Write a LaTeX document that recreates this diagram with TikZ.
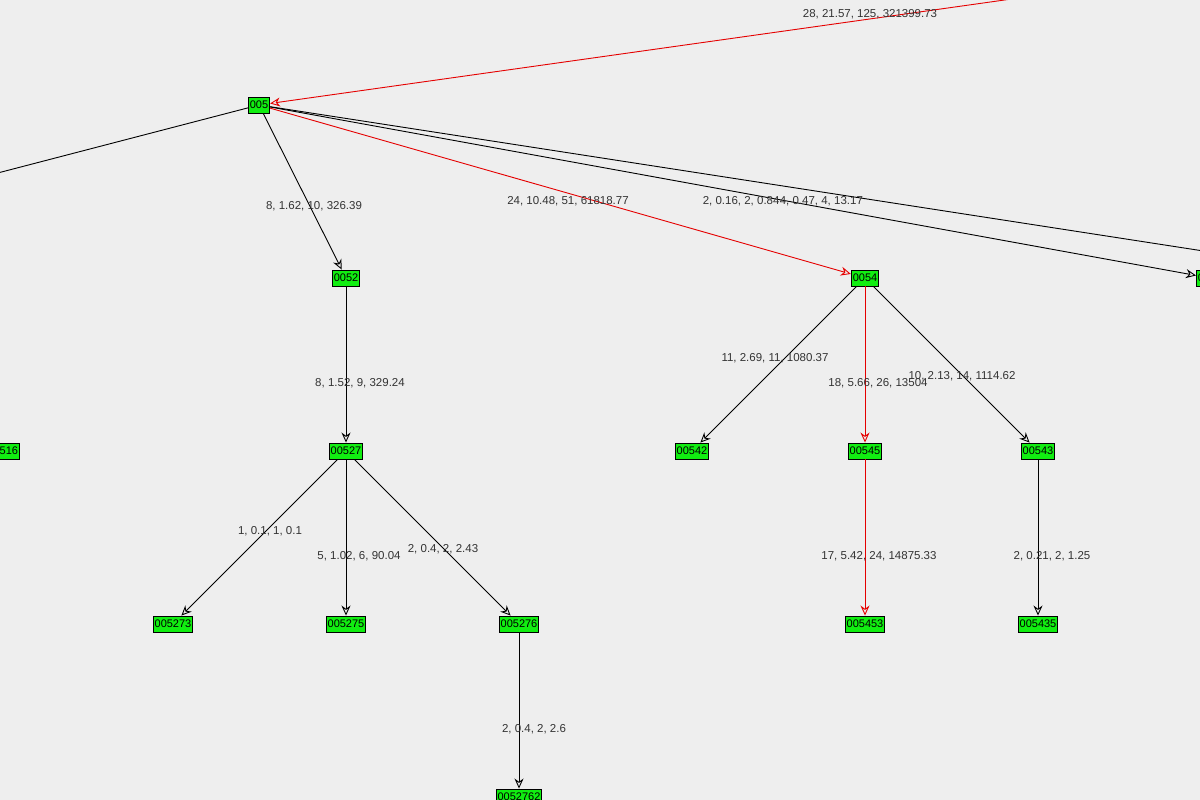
\documentclass[tikz,border=0pt]{standalone}
\usepackage{fontspec}
\setmainfont{Liberation Sans}
\usetikzlibrary{arrows.meta}
\definecolor{bg}{HTML}{EEEEEE}
\definecolor{ng}{HTML}{11EE11}
\begin{document}
\begin{tikzpicture}[x=1pt,y=-1pt,line width=0.9pt,
  nd/.style={draw=black,fill=ng,inner sep=1.5pt,minimum height=16pt,font=\fontsize{11}{11}\selectfont},
  lb/.style={font=\fontsize{11.5}{12}\selectfont,text=black!80},
  ed/.style={draw=black,-{Stealth[open,length=10pt,width=9pt]}},
  re/.style={draw=red!90!black,-{Stealth[open,length=10pt,width=9pt]}}]
\fill[bg] (0,0) rectangle (1200,800);
\useasboundingbox (0,0) rectangle (1200,800);
\begin{scope}
\clip (0,0) rectangle (1200,800);
\node[nd] (n005) at (259,105) {005};
\node[nd] (n0052) at (346,278) {0052};
\node[nd] (n0054) at (865,278) {0054};
\node[nd,anchor=west] (nR) at (1196,278) {0055};
\node[nd,anchor=east] (n516) at (20,451) {00516};
\node[nd] (n00527) at (346,451) {00527};
\node[nd] (n00542) at (692,451) {00542};
\node[nd] (n00545) at (865,451) {00545};
\node[nd] (n00543) at (1038,451) {00543};
\node[nd] (n005273) at (173,624) {005273};
\node[nd] (n005275) at (346,624) {005275};
\node[nd] (n005276) at (519,624) {005276};
\node[nd] (n005453) at (865,624) {005453};
\node[nd] (n005435) at (1038,624) {005435};
\node[nd] (n0052762) at (519,797) {0052762};
\coordinate (top) at (1040,-5);
\coordinate (lft) at (-10,175);
\coordinate (rgt) at (1210,252);
\draw[re] (top) -- (n005);
\draw (n005) -- (lft);
\draw (n005) -- (rgt);
\draw[ed] (n005) -- (nR);
\draw[re] (n005) -- (n0054);
\draw[ed] (n005) -- (n0052);
\draw[ed] (n0052) -- (n00527);
\draw[ed] (n0054) -- (n00542);
\draw[re] (n0054) -- (n00545);
\draw[ed] (n0054) -- (n00543);
\draw[ed] (n00527) -- (n005273);
\draw[ed] (n00527) -- (n005275);
\draw[ed] (n00527) -- (n005276);
\draw[re] (n00545) -- (n005453);
\draw[ed] (n00543) -- (n005435);
\draw[ed] (n005276) -- (n0052762);
\end{scope}
\node[lb] (l1) at (870,14) {28, 21.57, 125, 321399.73};
\node[lb] (l2) at (314,206) {8, 1.62, 10, 326.39};
\node[lb] (l3) at (568,201) {24, 10.48, 51, 61818.77};
\node[lb,anchor=west] (l4) at (699,201) {2, 0.16, 2, 0.84};
\node[lb,anchor=west] (l5) at (776,201) {4, 0.47, 4, 13.17};
\node[lb] (l6) at (360,383) {8, 1.52, 9, 329.24};
\node[lb] (l7) at (775,358) {11, 2.69, 11, 1080.37};
\node[lb] (l8) at (878,383) {18, 5.66, 26, 13504};
\node[lb] (l9) at (962,376) {10, 2.13, 14, 1114.62};
\node[lb] (l10) at (270,531) {1, 0.1, 1, 0.1};
\node[lb] (l11) at (359,556) {5, 1.02, 6, 90.04};
\node[lb] (l12) at (443,549) {2, 0.4, 2, 2.43};
\node[lb] (l13) at (879,556) {17, 5.42, 24, 14875.33};
\node[lb] (l14) at (1052,556) {2, 0.21, 2, 1.25};
\node[lb] (l15) at (534,729) {2, 0.4, 2, 2.6};
\end{tikzpicture}
\end{document}
